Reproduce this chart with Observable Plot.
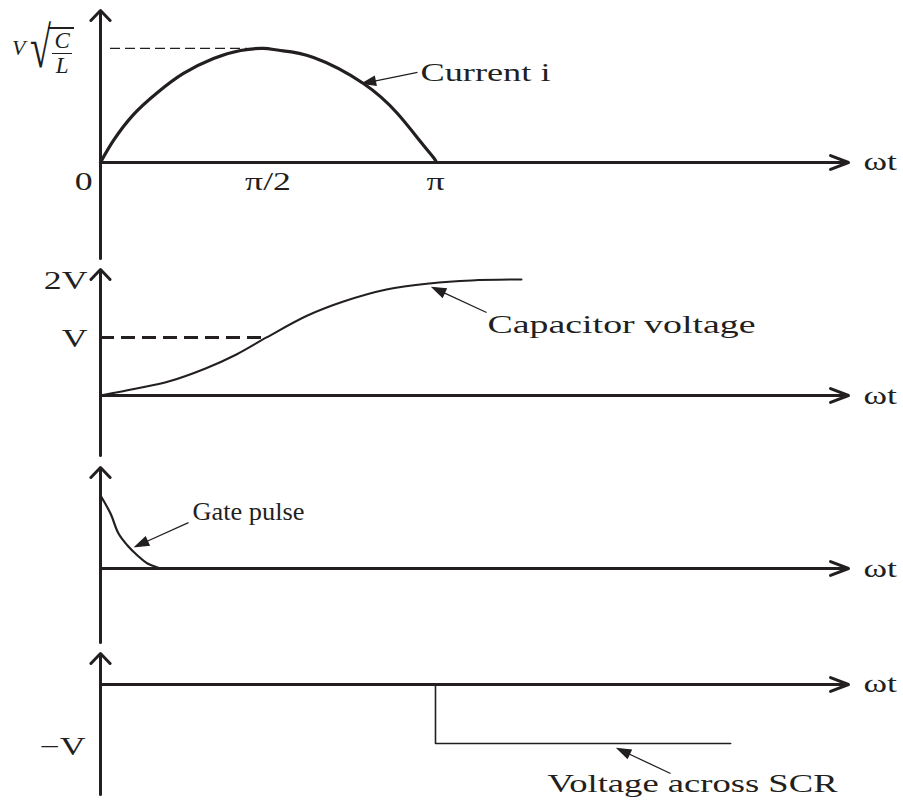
<!DOCTYPE html>
<html>
<head>
<meta charset="utf-8">
<script src="https://cdn.jsdelivr.net/npm/d3@7"></script>
<script src="https://cdn.jsdelivr.net/npm/@observablehq/plot@0.6"></script>
<style>
  body { margin: 0; background: #fff; }
  #chart { position: relative; width: 903px; height: 800px; overflow: hidden; }
  #chart svg { display: block; }
  #ylabel { position: absolute; left: 12px; top: 25px; display: flex; align-items: flex-start;
            font-family: "Liberation Serif", serif; color: #231f20; }
  #ylabel .v { font-size: 22px; font-style: italic; margin-top: 12px; margin-right: 5px; line-height: 22px; }
  #ylabel .rad { font-size: 58px; line-height: 58px; display: inline-block; transform: scale(0.66, 1.0); transform-origin: left top; width: 18px; margin-top: -6px; }
  #ylabel .frac { display: flex; flex-direction: column; align-items: center; font-size: 23px; font-style: italic;
                  border-top: 2px solid #231f20; padding: 0 2px 0 4px; margin-top: 2px; }
  #ylabel .frac .num { line-height: 24px; border-bottom: 1.5px solid #231f20; padding: 0 2px; }
  #ylabel .frac .den { line-height: 24px; }
</style>
</head>
<body>
<div id="chart">
  <div id="ylabel"><span class="v">V</span><span class="rad">√</span><span class="frac"><span class="num">C</span><span class="den">L</span></span></div>
</div>
<script>
// ---------- data (ωt in radians) ----------
// Panel 1: current i, in units of V·√(C/L)
const currentT = [0, 0.122, 0.309, 0.535, 0.778, 1.060, 1.313, 1.529, 1.688, 1.998, 2.466, 2.785, 3.000, 3.123, 3.150];
const currentI = [0, 0.193, 0.420, 0.614, 0.781, 0.912, 0.982, 1.000, 0.982, 0.921, 0.693, 0.430, 0.184, 0.044, 0];
// Panel 2: capacitor voltage, in units of V
const capT = [0, 0.338, 0.638, 0.985, 1.275, 1.557, 1.941, 2.279, 2.682, 3.085, 3.479, 3.948];
const capV = [0, 0.121, 0.241, 0.466, 0.707, 1.000, 1.379, 1.621, 1.828, 1.931, 1.983, 2.000];
// Panel 3: gate pulse (normalised)
const gateT = [0, 0.094, 0.169, 0.253, 0.347, 0.441, 0.535, 0.563];
const gateV = [1.000, 0.753, 0.479, 0.315, 0.178, 0.068, 0.014, 0];
// Panel 4: voltage across SCR, in units of V
const scrT = [0, Math.PI, Math.PI, 5.91];
const scrV = [0, 0, -1, -1];
// Tick values / labels
const xTickValues = [Math.PI / 2, Math.PI];
const xTickLabels = ["π/2", "π"];
const capTickValues = [2, 1];
const capTickLabels = ["2V", "V"];
const scrTickValues = [-1];
const scrTickLabels = ["−V"];
// Annotation labels and the curve points they point at
const annLabels = ["Current i", "Capacitor voltage", "Gate pulse", "Voltage across SCR"];
const annT = [2.457, 3.114, 0.328, 4.849];
const annV = [0.693, 1.862, 0.301, -1.085];

// ---------- layout ----------
const INK = "#231f20";
const FONT = "'Liberation Serif', 'Times New Roman', serif";
const W = 903;
const X_MAX = 7.015;              // extent of the ωt axis
const panels = [
  {height: 263, mt: 10, mb: 5, yDomain: [-0.842, 1.333]},
  {height: 198, mt: 6, mb: 6, yDomain: [-1.034, 2.172]},
  {height: 187, mt: 6, mb: 6, yDomain: [-1.014, 1.384]},
  {height: 152, mt: 5, mb: 6, yDomain: [-1.864, 0.525]}
];
// pointer tail offsets (px from tip) and label offsets (px from tip)
const annLayout = [
  {ox: 55, oy: -11, tx: 58, ty: -11, width: 130},
  {ox: 54, oy: 25, tx: 55, ty: 37, width: 268},
  {ox: 53, oy: -24, tx: 57, ty: -35, width: 112},
  {ox: 53, oy: 25, tx: -70, ty: 35, width: 290}
];
const TEXT_STRETCH = 1.43;        // the reference lettering is horizontally wide

const pointerSymbol = (len) => ({
  draw(ctx) {
    ctx.moveTo(0, 0); ctx.lineTo(-13, -4.5); ctx.lineTo(-13, 4.5); ctx.closePath();
    ctx.moveTo(-11, 0); ctx.lineTo(-len, 0);
  }
});

function axes(p) {
  return [
    Plot.arrow([0], {x1: 0, x2: X_MAX, y1: 0, y2: 0, stroke: INK, strokeWidth: 3, headLength: 9.6, headAngle: 42}),
    Plot.arrow([0], {x1: 0, x2: 0, y1: p.yDomain[0], y2: p.yDomain[1], stroke: INK, strokeWidth: 3, headLength: 6.9, headAngle: 88}),
    Plot.text(["ωt"], {x: X_MAX, y: 0, text: d => d, dx: 15, textAnchor: "start", lineAnchor: "middle",
      fontFamily: FONT, fontSize: 25, fill: INK})
  ];
}

function annotation(i) {
  const L = annLayout[i];
  const len = Math.hypot(L.ox, L.oy);
  const rot = Math.atan2(-L.oy, -L.ox) * 180 / Math.PI;
  const d = [{t: annT[i], v: annV[i], label: annLabels[i]}];
  return [
    Plot.dot(d, {x: "t", y: "v", r: len, symbol: pointerSymbol(len), rotate: rot, fill: INK, stroke: INK, strokeWidth: 1.3}),
    Plot.text(d, {x: "t", y: "v", text: "label", dx: L.tx, dy: L.ty, textAnchor: "start", lineAnchor: "middle",
      fontFamily: FONT, fontSize: 26, fill: INK})
  ];
}

function panel(p, marks) {
  return Plot.plot({
    width: W, height: p.height,
    marginLeft: 100, marginRight: W - 848, marginTop: p.mt, marginBottom: p.mb,
    x: {domain: [0, X_MAX], axis: null},
    y: {domain: p.yDomain, axis: null},
    style: {background: "transparent", overflow: "visible"},
    marks: [...axes(p), ...marks]
  });
}

const current = currentT.map((t, i) => ({t, v: currentI[i]}));
const cap = capT.map((t, i) => ({t, v: capV[i]}));
const gate = gateT.map((t, i) => ({t, v: gateV[i]}));
const scr = scrT.map((t, i) => ({t, v: scrV[i]}));

const tickText = {fontFamily: FONT, fontSize: 25, fill: INK, lineAnchor: "middle"};

const p1 = panel(panels[0], [
  Plot.ruleY([1], {x1: 0.094, x2: 1.379, stroke: INK, strokeWidth: 1.2, strokeDasharray: "10,5"}),
  Plot.line(current, {x: "t", y: "v", curve: "natural", stroke: INK, strokeWidth: 3.2}),
  Plot.text(["0"], {x: 0, y: 0, text: d => d, dx: -8, dy: 20, textAnchor: "end", ...tickText}),
  Plot.text(xTickValues, {x: d => d, y: 0, text: (d, i) => xTickLabels[i], dy: 20, ...tickText}),
  ...annotation(0)
]);

const p2 = panel(panels[1], [
  Plot.ruleY([1], {x1: 0, x2: 1.557, stroke: INK, strokeWidth: 3, strokeDasharray: "14,7"}),
  Plot.line(cap, {x: "t", y: "v", curve: "catmull-rom", stroke: INK, strokeWidth: 2}),
  Plot.text(capTickValues, {x: 0, y: d => d, text: (d, i) => capTickLabels[i], dx: -13, dy: 2, textAnchor: "end", ...tickText}),
  ...annotation(1)
]);

const p3 = panel(panels[2], [
  Plot.line(gate, {x: "t", y: "v", curve: "catmull-rom", stroke: INK, strokeWidth: 2.2}),
  ...annotation(2)
]);

const p4 = panel(panels[3], [
  Plot.line(scr, {x: "t", y: "v", stroke: INK, strokeWidth: 1.6}),
  Plot.text(scrTickValues, {x: 0, y: d => d, text: (d, i) => scrTickLabels[i], dx: -15, dy: 3, textAnchor: "end", ...tickText}),
  ...annotation(3)
]);

const chart = document.getElementById("chart");
for (const s of [p1, p2, p3, p4]) chart.appendChild(s);

// widen the lettering to match the reference
const annWidths = new Map(annLabels.map((l, i) => [l, annLayout[i].width]));
for (const t of chart.querySelectorAll("svg text")) {
  const w = t.getComputedTextLength();
  const target = annWidths.has(t.textContent) ? annWidths.get(t.textContent) : w * TEXT_STRETCH;
  t.setAttribute("textLength", target);
  t.setAttribute("lengthAdjust", "spacingAndGlyphs");
}
</script>
</body>
</html>
